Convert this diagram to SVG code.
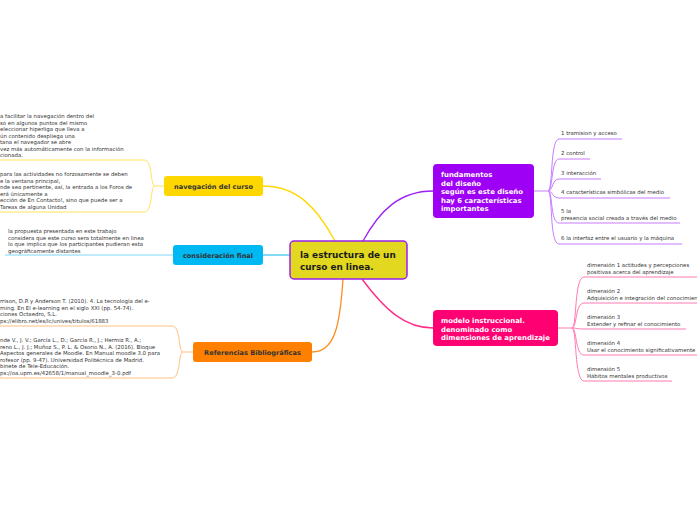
<svg xmlns="http://www.w3.org/2000/svg" width="697" height="520" viewBox="0 0 697 520">
<style>
.t{font-family:"DejaVu Sans",Verdana,sans-serif;font-size:5.4px;fill:#333}
.h{font-family:"DejaVu Sans",Verdana,sans-serif;font-weight:bold;font-size:6.6px;fill:#333}
.w{font-family:"DejaVu Sans",Verdana,sans-serif;font-weight:bold;font-size:6.9px;fill:#fff}
.c{font-family:"DejaVu Sans",Verdana,sans-serif;font-weight:bold;font-size:8.9px;fill:#1a1a1a}
.ln{fill:none}
</style>
<rect width="697" height="520" fill="#fff"/>
<g id="connectors" class="ln">
  <path d="M335,241 C316,206 296,186 263,186" stroke="#ffd700" stroke-width="1.3"/>
  <path d="M363,241 C380,210 400,191 433,191" stroke="#9f1ff5" stroke-width="1.3"/>
  <path d="M290,255 L263,255" stroke="#40c8f5" stroke-width="1.3"/>
  <path d="M343,279 C340,325 335,352 312,352" stroke="#ff8c1a" stroke-width="1.3"/>
  <path d="M362,279 C385,310 405,328 433,328" stroke="#ff2c88" stroke-width="1.3"/>
  <g stroke="#c77dff" stroke-width="1">
    <path d="M534,191 L548,191"/>
    <path d="M548,191 C553,191 550,139 559,139 L622,139"/>
    <path d="M548,191 C553,191 551,159 559,159 L590,159"/>
    <path d="M548,191 C553,191 552,179 559,179 L601,179"/>
    <path d="M548,191 C553,191 552,198 559,198 L670,198"/>
    <path d="M548,191 C553,191 550,223 559,223 L680,223"/>
    <path d="M548,191 C553,191 549,244 559,244 L682,244"/>
  </g>
  <g stroke="#ff7ab3" stroke-width="1">
    <path d="M558,328 L572,328"/>
    <path d="M572,328 C577,328 574,277 584,277 L697,277"/>
    <path d="M572,328 C577,328 575,303 584,303 L697,303"/>
    <path d="M572,328 C577,328 576,329 584,329 L686,329"/>
    <path d="M572,328 C577,328 575,355 584,355 L697,355"/>
    <path d="M572,328 C577,328 574,381 584,381 L672,381"/>
  </g>
  <g stroke="#ffe45c" stroke-width="1">
    <path d="M164,186 L155,186"/>
    <path d="M155,186 C150,186 153,160 144,160 L0,160"/>
    <path d="M155,186 C150,186 153,212 144,212 L0,212"/>
  </g>
  <path d="M173,255 L5,255" stroke="#7fd6f7" stroke-width="1"/>
  <g stroke="#ffc080" stroke-width="1">
    <path d="M193,352 L183,352"/>
    <path d="M183,352 C178,352 181,326 172,326 L0,326"/>
    <path d="M183,352 C178,352 181,378 172,378 L0,378"/>
  </g>
</g>
<g id="central">
  <rect x="290" y="241" width="117" height="38" rx="4" fill="#e1d81f" stroke="#9b22ee" stroke-width="1.5"/>
  <text class="c" x="300" y="258">la estructura de un</text>
  <text class="c" x="300" y="270">curso en linea.</text>
</g>
<g id="navegacion">
  <rect x="164" y="176" width="99" height="20" rx="3" fill="#ffd700"/>
  <text class="h" x="213.5" y="188.5" text-anchor="middle">navegación del curso</text>
</g>
<g id="consideracion">
  <rect x="173" y="245" width="90" height="20" rx="3" fill="#00b9f2"/>
  <text class="h" x="218" y="257.5" text-anchor="middle">consideración final</text>
</g>
<g id="referencias">
  <rect x="193" y="342" width="119" height="20" rx="3" fill="#ff8000"/>
  <text class="h" x="252.5" y="354.5" text-anchor="middle">Referencias Bibliográficas</text>
</g>
<g id="fundamentos">
  <rect x="433" y="164" width="101" height="54" rx="4" fill="#9d00f5"/>
  <text class="w" x="441" y="177">fundamentos</text>
  <text class="w" x="441" y="185.5">del diseño</text>
  <text class="w" x="441" y="194">según es este diseño</text>
  <text class="w" x="441" y="202.5">hay 6 características</text>
  <text class="w" x="441" y="211">importantes</text>
</g>
<g id="modelo">
  <rect x="433" y="310" width="125" height="36" rx="4" fill="#ff0072"/>
  <text class="w" x="441" y="323">modelo instruccional.</text>
  <text class="w" x="441" y="331.5">denominado como</text>
  <text class="w" x="441" y="340">dimensiones de aprendizaje</text>
</g>
<g id="fund-items">
  <text class="t" x="561" y="135">1 tramision y acceso</text>
  <text class="t" x="561" y="155">2 control</text>
  <text class="t" x="561" y="175">3 interacción</text>
  <text class="t" x="561" y="194">4 características simbólicas del medio</text>
  <text class="t" x="561" y="213">5 la</text>
  <text class="t" x="561" y="219.5">presencia social creada a través del medio</text>
  <text class="t" x="561" y="240">6  la interfaz entre el usuario y la máquina</text>
</g>
<g id="modelo-items">
  <text class="t" x="587" y="267">dimensión 1 actitudes y percepciones</text>
  <text class="t" x="587" y="273.5">positivas acerca del aprendizaje</text>
  <text class="t" x="587" y="293">dimensión 2</text>
  <text class="t" x="587" y="299.5">Adquisición e integración del conocimiento</text>
  <text class="t" x="587" y="319">dimensión 3</text>
  <text class="t" x="587" y="325.5">Extender y refinar el conocimiento</text>
  <text class="t" x="587" y="345">dimensión 4</text>
  <text class="t" x="587" y="351.5">Usar el conocimiento significativamente</text>
  <text class="t" x="587" y="371">dimensión 5</text>
  <text class="t" x="587" y="377.5"> Hábitos mentales productivos</text>
</g>
<g id="nav-items">
  <text class="t" x="0" y="118">a facilitar la navegación dentro del</text>
  <text class="t" x="0" y="124.5">so en algunos puntos del mismo</text>
  <text class="t" x="0" y="131">eleccionar hiperliga que lleva a</text>
  <text class="t" x="0" y="137.5">ún contenido despliega una</text>
  <text class="t" x="0" y="144">tana el navegador se abre</text>
  <text class="t" x="0" y="150.5"> vez más automáticamente con la información</text>
  <text class="t" x="0" y="157">cionada.</text>
  <text class="t" x="0" y="176">para las actividades no forzosamente se deben</text>
  <text class="t" x="0" y="182.5">e la ventana principal,</text>
  <text class="t" x="0" y="189">nde sea pertinente, así, la entrada a los Foros de</text>
  <text class="t" x="0" y="195.5">erá únicamente a</text>
  <text class="t" x="0" y="202">ección de En Contacto!, sino que puede ser a</text>
  <text class="t" x="0" y="208.5">Tareas de alguna Unidad</text>
</g>
<g id="cons-items">
  <text class="t" x="8" y="233">la propuesta presentada  en este trabajo</text>
  <text class="t" x="8" y="239.5">considera que este curso sera totalmente en linea</text>
  <text class="t" x="8" y="246">lo que implica que los participantes pudieran esta</text>
  <text class="t" x="8" y="252.5">geográficamente distantes</text>
</g>
<g id="ref-items">
  <text class="t" x="0" y="303">rrison, D.R y Anderson T. (2010). 4. La tecnología del e-</text>
  <text class="t" x="0" y="309.5">rning. En El e-learning en el siglo XXI (pp. 54-74).</text>
  <text class="t" x="0" y="316">ciones Octaedro, S.L.</text>
  <text class="t" x="0" y="322.5">ps://elibro.net/es/lc/unives/titulos/61883</text>
  <text class="t" x="0" y="342">nde V., J. V.; García L., D.; García R., J.; Hermiz R., A.;</text>
  <text class="t" x="0" y="348.5">reno L., J. J.; Muñoz S., P. L. &amp; Osorio N., A. (2016). Bloque</text>
  <text class="t" x="0" y="355"> Aspectos generales de Moodle. En Manual moodle 3.0 para</text>
  <text class="t" x="0" y="361.5">rofesor (pp. 9-47). Universidad Politécnica de Madrid.</text>
  <text class="t" x="0" y="368">binete de Tele-Educación.</text>
  <text class="t" x="0" y="374.5">ps://oa.upm.es/42658/1/manual_moodle_3-0.pdf</text>
</g>
</svg>
